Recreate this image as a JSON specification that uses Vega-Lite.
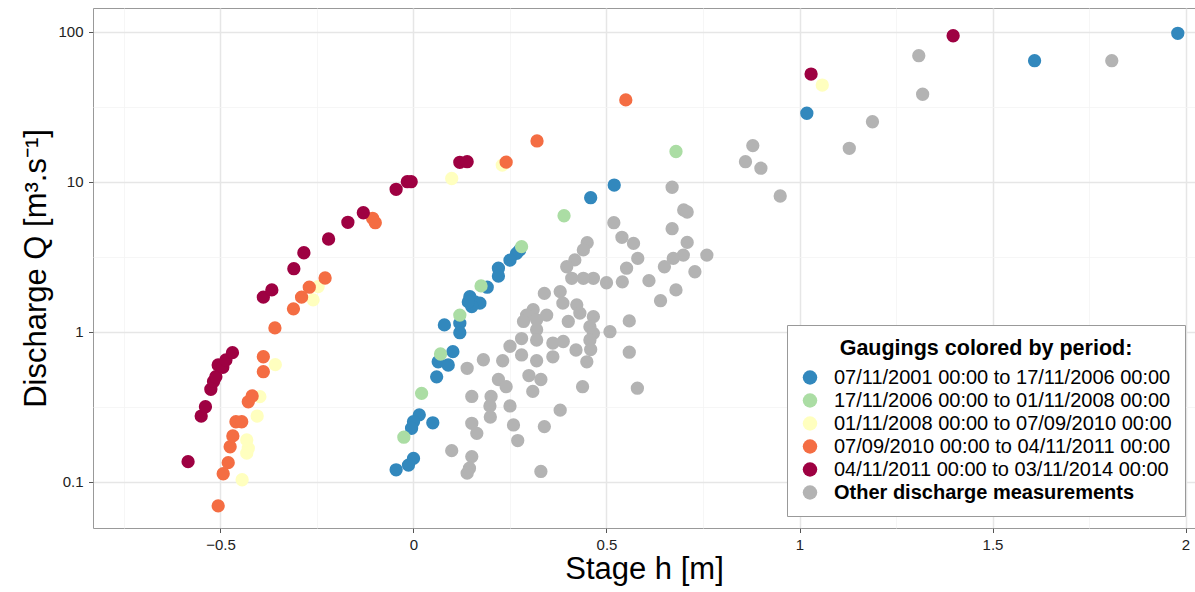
{
  "$schema": "https://vega.github.io/schema/vega-lite/v6.json",
  "autosize": {"type": "none"},
  "padding": {"left": 93, "top": 8, "right": 0, "bottom": 64},
  "width": 1102,
  "height": 520,
  "background": "white",
  "config": {
    "view": {"stroke": "#999999", "strokeWidth": 1},
    "font": "Liberation Sans"
  },
  "data": {
    "values": [
      {"h": 0.879, "Q": 17.4, "p": "O"}, {"h": 0.860, "Q": 13.6, "p": "O"}, {"h": 0.900, "Q": 12.3, "p": "O"},
      {"h": 0.950, "Q": 8.03, "p": "O"}, {"h": 0.670, "Q": 9.18, "p": "O"}, {"h": 0.700, "Q": 6.48, "p": "O"},
      {"h": 0.709, "Q": 6.28, "p": "O"}, {"h": 0.519, "Q": 5.33, "p": "O"}, {"h": 0.540, "Q": 4.26, "p": "O"},
      {"h": 0.570, "Q": 3.88, "p": "O"}, {"h": 0.670, "Q": 4.86, "p": "O"}, {"h": 0.709, "Q": 3.94, "p": "O"},
      {"h": 1.129, "Q": 16.7, "p": "O"}, {"h": 1.189, "Q": 25.1, "p": "O"}, {"h": 1.309, "Q": 69.2, "p": "O"},
      {"h": 1.319, "Q": 38.3, "p": "O"}, {"h": 1.809, "Q": 64.1, "p": "O"},
      {"h": 0.760, "Q": 3.24, "p": "O"}, {"h": 0.699, "Q": 3.24, "p": "O"}, {"h": 0.673, "Q": 3.08, "p": "O"},
      {"h": 0.650, "Q": 2.71, "p": "O"}, {"h": 0.729, "Q": 2.51, "p": "O"}, {"h": 0.680, "Q": 1.90, "p": "O"},
      {"h": 0.640, "Q": 1.61, "p": "O"}, {"h": 0.610, "Q": 2.19, "p": "O"}, {"h": 0.581, "Q": 3.08, "p": "O"},
      {"h": 0.552, "Q": 2.65, "p": "O"}, {"h": 0.541, "Q": 2.15, "p": "O"}, {"h": 0.500, "Q": 2.12, "p": "O"},
      {"h": 0.466, "Q": 2.27, "p": "O"}, {"h": 0.440, "Q": 2.27, "p": "O"}, {"h": 0.410, "Q": 2.27, "p": "O"},
      {"h": 0.450, "Q": 3.92, "p": "O"}, {"h": 0.440, "Q": 3.51, "p": "O"}, {"h": 0.418, "Q": 3.01, "p": "O"},
      {"h": 0.397, "Q": 2.71, "p": "O"}, {"h": 0.339, "Q": 1.80, "p": "O"}, {"h": 0.380, "Q": 1.85, "p": "O"},
      {"h": 0.387, "Q": 1.55, "p": "O"}, {"h": 0.423, "Q": 1.51, "p": "O"}, {"h": 0.431, "Q": 1.33, "p": "O"},
      {"h": 0.466, "Q": 1.26, "p": "O"}, {"h": 0.401, "Q": 1.17, "p": "O"}, {"h": 0.310, "Q": 1.40, "p": "O"},
      {"h": 0.293, "Q": 1.29, "p": "O"}, {"h": 0.345, "Q": 1.29, "p": "O"}, {"h": 0.319, "Q": 1.20, "p": "O"},
      {"h": 0.285, "Q": 1.17, "p": "O"}, {"h": 0.509, "Q": 1.00, "p": "O"}, {"h": 0.559, "Q": 1.18, "p": "O"},
      {"h": 0.457, "Q": 1.08, "p": "O"}, {"h": 0.466, "Q": 0.975, "p": "O"}, {"h": 0.457, "Q": 0.88, "p": "O"},
      {"h": 0.319, "Q": 1.03, "p": "O"}, {"h": 0.319, "Q": 0.88, "p": "O"}, {"h": 0.280, "Q": 0.90, "p": "O"},
      {"h": 0.250, "Q": 0.80, "p": "O"}, {"h": 0.280, "Q": 0.70, "p": "O"}, {"h": 0.361, "Q": 0.84, "p": "O"},
      {"h": 0.361, "Q": 0.68, "p": "O"}, {"h": 0.388, "Q": 0.86, "p": "O"}, {"h": 0.421, "Q": 0.755, "p": "O"},
      {"h": 0.449, "Q": 0.63, "p": "O"}, {"h": 0.459, "Q": 0.76, "p": "O"}, {"h": 0.559, "Q": 0.73, "p": "O"},
      {"h": 0.580, "Q": 0.42, "p": "O"}, {"h": 0.438, "Q": 0.43, "p": "O"}, {"h": 0.380, "Q": 0.30, "p": "O"},
      {"h": 0.319, "Q": 0.64, "p": "O"}, {"h": 0.231, "Q": 0.64, "p": "O"}, {"h": 0.181, "Q": 0.65, "p": "O"},
      {"h": 0.139, "Q": 0.57, "p": "O"}, {"h": 0.220, "Q": 0.48, "p": "O"}, {"h": 0.240, "Q": 0.43, "p": "O"},
      {"h": 0.299, "Q": 0.51, "p": "O"}, {"h": 0.330, "Q": 0.48, "p": "O"}, {"h": 0.309, "Q": 0.40, "p": "O"},
      {"h": 0.151, "Q": 0.37, "p": "O"}, {"h": 0.201, "Q": 0.37, "p": "O"}, {"h": 0.198, "Q": 0.32, "p": "O"},
      {"h": 0.199, "Q": 0.27, "p": "O"}, {"h": 0.250, "Q": 0.32, "p": "O"}, {"h": 0.151, "Q": 0.245, "p": "O"},
      {"h": 0.164, "Q": 0.21, "p": "O"}, {"h": 0.259, "Q": 0.239, "p": "O"}, {"h": 0.270, "Q": 0.188, "p": "O"},
      {"h": 0.339, "Q": 0.233, "p": "O"}, {"h": 0.099, "Q": 0.161, "p": "O"}, {"h": 0.151, "Q": 0.147, "p": "O"},
      {"h": 0.145, "Q": 0.123, "p": "O"}, {"h": 0.139, "Q": 0.114, "p": "O"}, {"h": 0.330, "Q": 0.117, "p": "O"},

      {"h": 0.520, "Q": 9.5, "p": "P1"}, {"h": 0.459, "Q": 7.82, "p": "P1"}, {"h": 1.019, "Q": 28.6, "p": "P1"},
      {"h": 1.609, "Q": 64.1, "p": "P1"}, {"h": 1.980, "Q": 97.6, "p": "P1"}, {"h": 0.275, "Q": 3.5, "p": "P1"},
      {"h": 0.267, "Q": 3.33, "p": "P1"}, {"h": 0.250, "Q": 3.0, "p": "P1"}, {"h": 0.220, "Q": 2.65, "p": "P1"},
      {"h": 0.220, "Q": 2.35, "p": "P1"}, {"h": 0.191, "Q": 1.98, "p": "P1"}, {"h": 0.146, "Q": 1.71, "p": "P1"},
      {"h": 0.159, "Q": 1.58, "p": "P1"}, {"h": 0.172, "Q": 1.55, "p": "P1"}, {"h": 0.151, "Q": 1.47, "p": "P1"},
      {"h": 0.142, "Q": 1.58, "p": "P1"}, {"h": 0.120, "Q": 1.14, "p": "P1"}, {"h": 0.120, "Q": 0.985, "p": "P1"},
      {"h": 0.080, "Q": 1.11, "p": "P1"}, {"h": 0.102, "Q": 0.736, "p": "P1"}, {"h": 0.064, "Q": 0.63, "p": "P1"},
      {"h": 0.090, "Q": 0.60, "p": "P1"}, {"h": 0.060, "Q": 0.50, "p": "P1"}, {"h": 0.015, "Q": 0.279, "p": "P1"},
      {"h": 0.000, "Q": 0.251, "p": "P1"}, {"h": -0.005, "Q": 0.227, "p": "P1"}, {"h": 0.050, "Q": 0.247, "p": "P1"},
      {"h": 0.000, "Q": 0.143, "p": "P1"}, {"h": -0.013, "Q": 0.129, "p": "P1"}, {"h": -0.045, "Q": 0.120, "p": "P1"},

      {"h": 0.680, "Q": 15.9, "p": "P2"}, {"h": 0.390, "Q": 5.93, "p": "P2"}, {"h": 0.280, "Q": 3.69, "p": "P2"},
      {"h": 0.175, "Q": 2.02, "p": "P2"}, {"h": 0.120, "Q": 1.29, "p": "P2"}, {"h": 0.070, "Q": 0.71, "p": "P2"},
      {"h": 0.021, "Q": 0.388, "p": "P2"}, {"h": -0.025, "Q": 0.198, "p": "P2"},

      {"h": -0.444, "Q": 0.103, "p": "P3"}, {"h": -0.432, "Q": 0.190, "p": "P3"}, {"h": -0.428, "Q": 0.167, "p": "P3"},
      {"h": -0.432, "Q": 0.155, "p": "P3"}, {"h": -0.405, "Q": 0.274, "p": "P3"}, {"h": -0.398, "Q": 0.369, "p": "P3"},
      {"h": -0.358, "Q": 0.603, "p": "P3"}, {"h": -0.260, "Q": 1.63, "p": "P3"}, {"h": -0.247, "Q": 2.0, "p": "P3"},
      {"h": 0.099, "Q": 10.5, "p": "P3"}, {"h": 0.230, "Q": 12.9, "p": "P3"}, {"h": 1.059, "Q": 44.1, "p": "P3"},

      {"h": -0.506, "Q": 0.069, "p": "P4"}, {"h": -0.493, "Q": 0.113, "p": "P4"}, {"h": -0.480, "Q": 0.134, "p": "P4"},
      {"h": -0.475, "Q": 0.171, "p": "P4"}, {"h": -0.468, "Q": 0.202, "p": "P4"}, {"h": -0.460, "Q": 0.251, "p": "P4"},
      {"h": -0.445, "Q": 0.251, "p": "P4"}, {"h": -0.428, "Q": 0.341, "p": "P4"}, {"h": -0.418, "Q": 0.373, "p": "P4"},
      {"h": -0.389, "Q": 0.541, "p": "P4"}, {"h": -0.389, "Q": 0.681, "p": "P4"}, {"h": -0.359, "Q": 1.06, "p": "P4"},
      {"h": -0.311, "Q": 1.42, "p": "P4"}, {"h": -0.290, "Q": 1.70, "p": "P4"}, {"h": -0.270, "Q": 1.98, "p": "P4"},
      {"h": -0.229, "Q": 2.28, "p": "P4"}, {"h": -0.106, "Q": 5.70, "p": "P4"}, {"h": -0.099, "Q": 5.33, "p": "P4"},
      {"h": 0.240, "Q": 13.5, "p": "P4"}, {"h": 0.320, "Q": 18.7, "p": "P4"}, {"h": 0.550, "Q": 35.1, "p": "P4"},

      {"h": -0.584, "Q": 0.136, "p": "P5"}, {"h": -0.550, "Q": 0.274, "p": "P5"}, {"h": -0.539, "Q": 0.316, "p": "P5"},
      {"h": -0.525, "Q": 0.413, "p": "P5"}, {"h": -0.518, "Q": 0.466, "p": "P5"}, {"h": -0.512, "Q": 0.501, "p": "P5"},
      {"h": -0.506, "Q": 0.600, "p": "P5"}, {"h": -0.494, "Q": 0.579, "p": "P5"}, {"h": -0.486, "Q": 0.648, "p": "P5"},
      {"h": -0.469, "Q": 0.725, "p": "P5"}, {"h": -0.389, "Q": 1.70, "p": "P5"}, {"h": -0.367, "Q": 1.90, "p": "P5"},
      {"h": -0.310, "Q": 2.63, "p": "P5"}, {"h": -0.284, "Q": 3.36, "p": "P5"}, {"h": -0.220, "Q": 4.15, "p": "P5"},
      {"h": -0.170, "Q": 5.36, "p": "P5"}, {"h": -0.130, "Q": 6.21, "p": "P5"}, {"h": -0.045, "Q": 8.90, "p": "P5"},
      {"h": -0.016, "Q": 10.0, "p": "P5"}, {"h": -0.006, "Q": 10.0, "p": "P5"}, {"h": 0.120, "Q": 13.47, "p": "P5"},
      {"h": 0.139, "Q": 13.6, "p": "P5"}, {"h": 1.030, "Q": 52.2, "p": "P5"}, {"h": 1.398, "Q": 94.0, "p": "P5"}
    ]
  },
  "mark": {"type": "circle", "size": 177, "opacity": 1},
  "encoding": {
    "x": {
      "field": "h",
      "type": "quantitative",
      "scale": {"domain": [-0.8303, 2.0246], "nice": false, "zero": false},
      "axis": {
        "title": "Stage h [m]",
        "values": [-0.75, -0.5, -0.25, 0, 0.25, 0.5, 0.75, 1, 1.25, 1.5, 1.75, 2],
        "format": "~g",
        "labelExpr": "abs(datum.value*2 - round(datum.value*2)) > 0.01 ? '' : datum.label",
        "labelFlush": false,
        "labelOverlap": false,
        "domain": false,
        "grid": true,
        "gridColor": {"condition": {"test": "abs(datum.value*2 - round(datum.value*2)) > 0.01", "value": "#f4f4f4"}, "value": "#e6e6e6"},
        "gridWidth": {"condition": {"test": "abs(datum.value*2 - round(datum.value*2)) > 0.01", "value": 0.8}, "value": 1.5},
        "tickOpacity": {"condition": {"test": "abs(datum.value*2 - round(datum.value*2)) > 0.01", "value": 0}, "value": 1},
        "tickColor": "#555555",
        "tickSize": 4.5,
        "labelPadding": 4.5,
        "labelFontSize": 15,
        "labelColor": "#222222",
        "titleFontSize": 31,
        "titleFontWeight": "normal",
        "titleColor": "#000000",
        "titlePadding": 2
      }
    },
    "y": {
      "field": "Q",
      "type": "quantitative",
      "scale": {"type": "log", "domain": [0.04912, 143.9], "nice": false},
      "axis": {
        "title": "Discharge Q [m³.s⁻¹]",
        "values": [0.1, 0.316227766, 1, 3.16227766, 10, 31.6227766, 100],
        "format": "~g",
        "labelExpr": "abs(log(datum.value)/LN10 - round(log(datum.value)/LN10)) > 0.01 ? '' : datum.label",
        "labelOverlap": false,
        "labelFlush": false,
        "domain": false,
        "grid": true,
        "gridColor": {"condition": {"test": "abs(log(datum.value)/LN10 - round(log(datum.value)/LN10)) > 0.01", "value": "#f4f4f4"}, "value": "#e6e6e6"},
        "gridWidth": {"condition": {"test": "abs(log(datum.value)/LN10 - round(log(datum.value)/LN10)) > 0.01", "value": 0.8}, "value": 1.5},
        "tickOpacity": {"condition": {"test": "abs(log(datum.value)/LN10 - round(log(datum.value)/LN10)) > 0.01", "value": 0}, "value": 1},
        "tickColor": "#555555",
        "tickSize": 4.5,
        "labelPadding": 5.5,
        "labelFontSize": 15,
        "labelColor": "#222222",
        "titleFontSize": 31,
        "titleFontWeight": "normal",
        "titleColor": "#000000",
        "titlePadding": 5
      }
    },
    "color": {
      "field": "p",
      "type": "nominal",
      "scale": {
        "domain": ["P1", "P2", "P3", "P4", "P5", "O"],
        "range": ["#3288bd", "#abdda4", "#ffffbf", "#f46d43", "#9e0142", "#b3b3b3"]
      },
      "legend": {
        "title": "Gaugings colored by period:",
        "orient": "none",
        "legendX": 694,
        "legendY": 317,
        "direction": "vertical",
        "padding": 13,
        "strokeColor": "#999999",
        "fillColor": "white",
        "titleFontSize": 21.5,
        "titleFontWeight": "bold",
        "titleColor": "#000000",
        "titleAnchor": "middle",
        "titlePadding": 8,
        "titleLimit": 0,
        "labelFontSize": 20,
        "labelColor": "#000000",
        "labelLimit": 0,
        "labelOffset": 14,
        "symbolSize": 210,
        "symbolType": "circle",
        "symbolStrokeWidth": 0,
        "symbolOpacity": 1,
        "rowPadding": 3,
        "labelExpr": "{'P1': '07/11/2001 00:00 to 17/11/2006 00:00', 'P2': '17/11/2006 00:00 to 01/11/2008 00:00', 'P3': '01/11/2008 00:00 to 07/09/2010 00:00', 'P4': '07/09/2010 00:00 to 04/11/2011 00:00', 'P5': '04/11/2011 00:00 to 03/11/2014 00:00', 'O': 'Other discharge measurements'}[datum.value]",
        "labelFontWeight": {"expr": "datum.value == 'O' ? 'bold' : 'normal'"}
      }
    }
  }
}
